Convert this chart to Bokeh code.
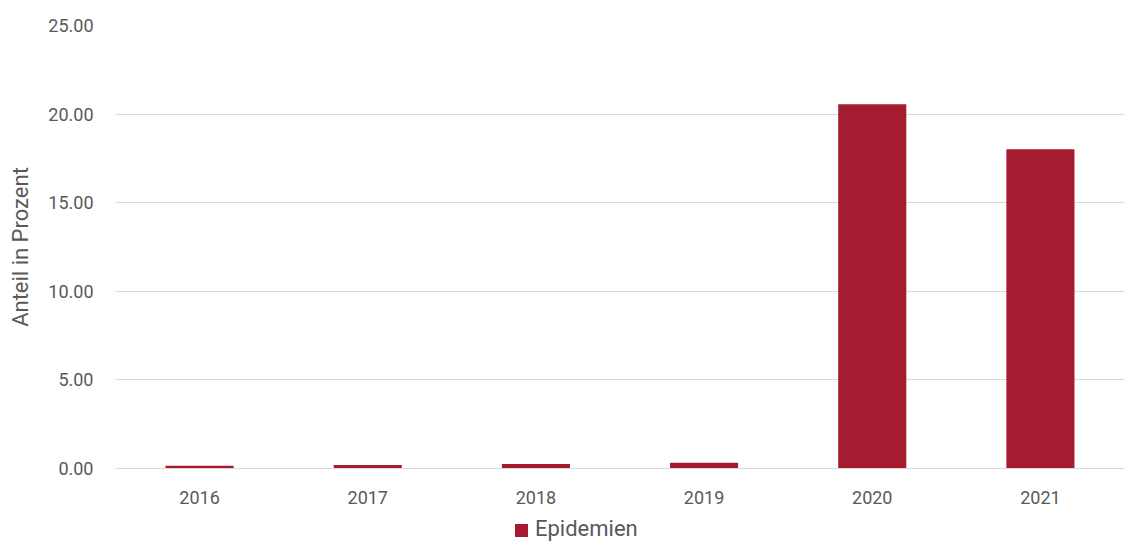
from bokeh.plotting import figure
from bokeh.layouts import column
from bokeh.models import ColumnDataSource, FactorRange, Range1d, NumeralTickFormatter, FixedTicker, Div
from bokeh.embed import file_html
from bokeh.resources import INLINE

years = ["2016", "2017", "2018", "2019", "2020", "2021"]
epidemien = [0.15, 0.20, 0.25, 0.33, 20.56, 18.02]
y_ticks = [0, 5, 10, 15, 20, 25]
series_name = "Epidemien"
y_label = "Anteil in Prozent"

FONT = "Roboto"
TXT = "#595959"
BAR = "#A51C30"
GRID = "#D9D9D9"

src = ColumnDataSource(dict(x=years, y=epidemien))

p = figure(width=1124, height=519, x_range=FactorRange(*years, range_padding=0),
           y_range=Range1d(0, 25), output_backend="svg", toolbar_location=None,
           min_border_left=115, min_border_right=0, min_border_top=25, min_border_bottom=51)
p.outline_line_color = None
r = p.vbar(x="x", top="y", width=0.405, source=src, fill_color=BAR, line_color=None)

p.yaxis.ticker = FixedTicker(ticks=y_ticks)
p.yaxis.formatter = NumeralTickFormatter(format="0.00")
p.yaxis.axis_line_color = None
p.yaxis.major_tick_line_color = None
p.yaxis.minor_tick_line_color = None
p.yaxis.major_label_standoff = 16
p.yaxis.axis_label = y_label
p.yaxis.axis_label_standoff = 12
p.yaxis.axis_label_text_font = FONT
p.yaxis.axis_label_text_font_size = "22px"
p.yaxis.axis_label_text_font_style = "normal"
p.yaxis.axis_label_text_color = TXT

p.xaxis.axis_line_color = GRID
p.xaxis.major_tick_line_color = None
p.xaxis.minor_tick_line_color = None
p.xaxis.major_label_standoff = 16

for ax in (p.xaxis, p.yaxis):
    ax.major_label_text_font = FONT
    ax.major_label_text_font_size = "18px"
    ax.major_label_text_color = TXT

p.xgrid.grid_line_color = None
p.ygrid.grid_line_color = GRID
p.ygrid.grid_line_width = 1

legend_html = (
    '<div style="padding-left:515px;white-space:nowrap;font-family:Roboto;'
    'font-size:22px;line-height:20px;color:%s;">'
    '<span style="display:inline-block;width:13px;height:13px;background:%s;'
    'margin-right:7px;vertical-align:-1px;"></span>%s</div>' % (TXT, BAR, series_name)
)
legend_div = Div(text=legend_html, width=1124, height=20, margin=0)

layout = column(p, legend_div, spacing=0)
open("out.html", "w").write(file_html(layout, INLINE))
